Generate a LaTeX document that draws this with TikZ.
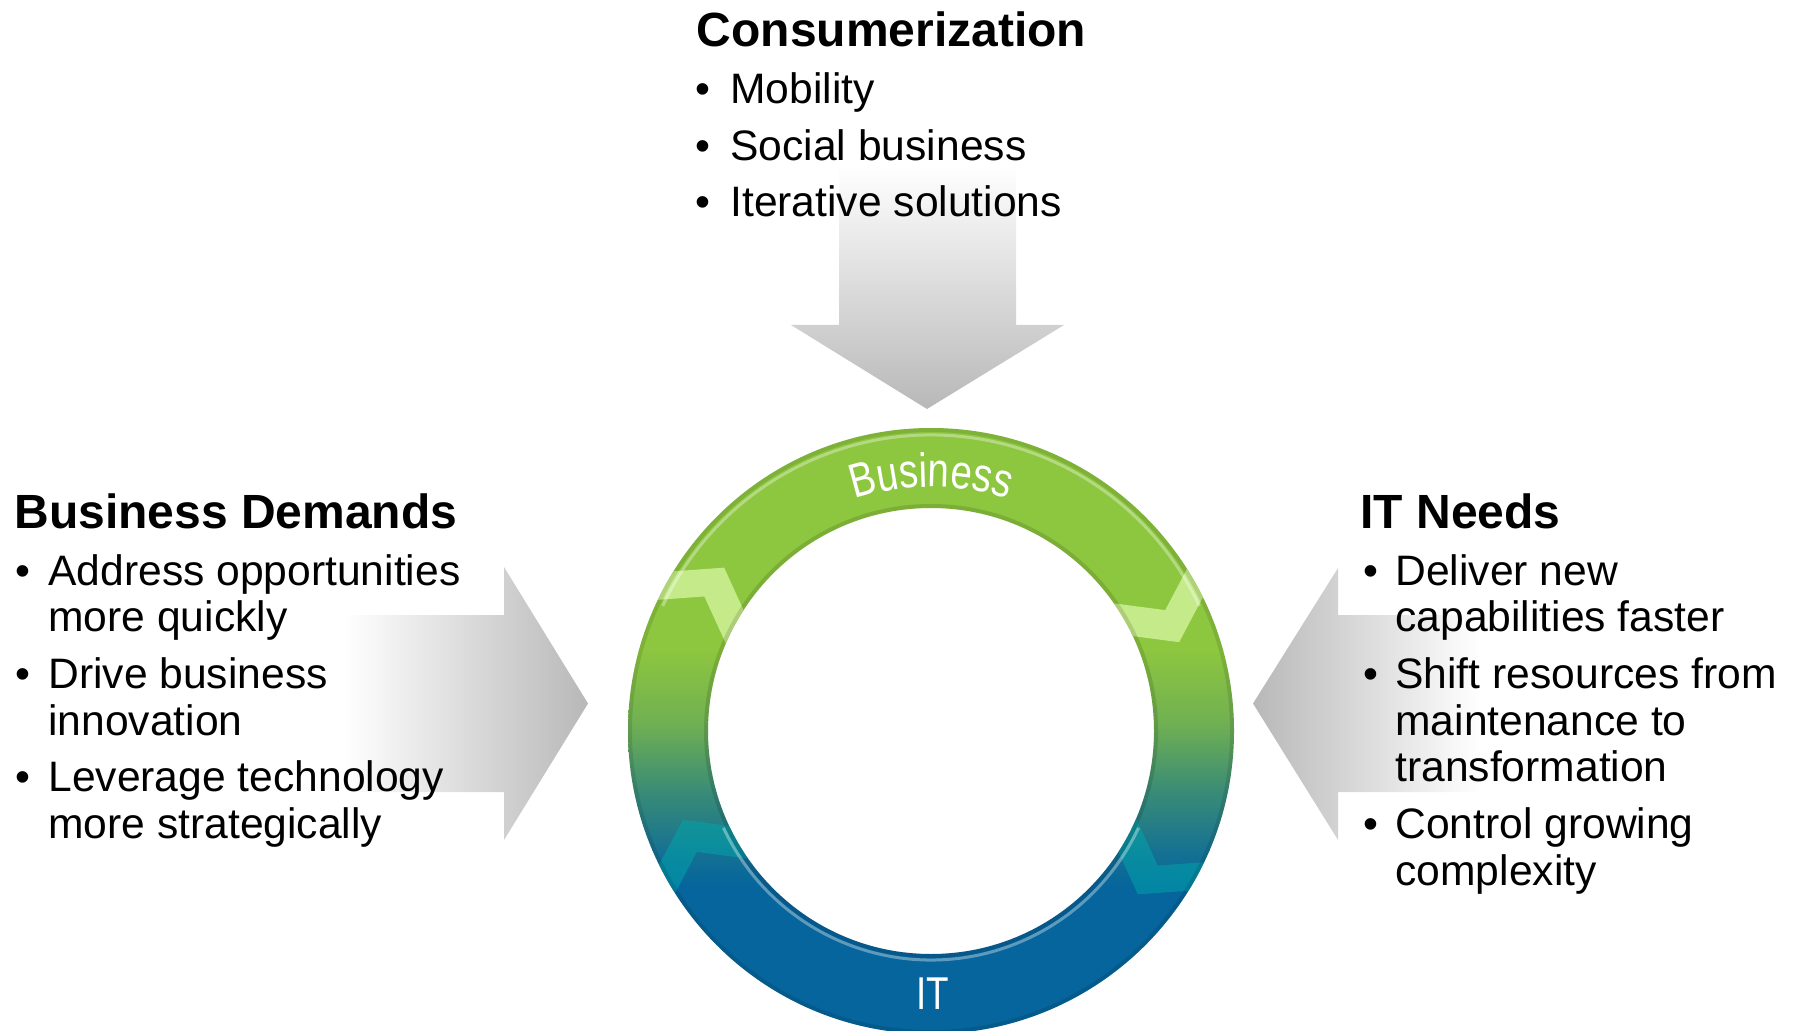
\documentclass[tikz,border=0pt]{standalone}
\usepackage{fontspec}
\setmainfont{Liberation Sans}
\newfontfamily\ringfont[FakeStretch=0.8]{Liberation Sans}
\usetikzlibrary{decorations.text}

\definecolor{ringgreen}{RGB}{141,198,63}
\definecolor{ringmid}{RGB}{112,176,82}
\definecolor{ringsea}{RGB}{58,140,118}
\definecolor{ringteal}{RGB}{22,114,146}
\definecolor{ringblue}{RGB}{6,101,156}
\definecolor{chevlight}{RGB}{197,234,138}
\definecolor{chevteal}{RGB}{0,168,172}
\definecolor{arrowgray}{RGB}{184,184,184}

\tikzset{
  heading/.style={anchor=base west, inner sep=0pt,
    font=\fontsize{24pt}{28pt}\selectfont\bfseries},
  itemtext/.style={anchor=base west, inner sep=0pt,
    font=\fontsize{21.3pt}{25pt}\selectfont},
  bulletmark/.style={itemtext},
  ringlabel/.style={inner sep=0pt, text=white,
    font=\ringfont\fontsize{23pt}{23pt}\selectfont},
  % chevron band crossing the ring, pointing clockwise (local frame: ring at angle 0)
  chevron/.pic={
    \path[pic actions] (318,26.5) -- (263,-17.5) -- (208,15.5)
      -- (208,50.5) -- (263,17.5) -- (318,61.5) -- cycle;
  },
}

\begin{document}
\begin{tikzpicture}[x=0.5pt,y=0.5pt]
\useasboundingbox (0,0) rectangle (1797,-1031);

\coordinate (ringc) at (931,-731);

% ---- grey block arrows pointing at the ring ----
\shade[top color=white, bottom color=arrowgray]
  (839,-165) -- (1016,-165) -- (1016,-325) -- (1064,-325) -- (927,-409)
  -- (791,-325) -- (839,-325) -- cycle;
\shade[left color=white, right color=arrowgray]
  (344,-615) -- (504,-615) -- (504,-567) -- (588,-703.5) -- (504,-840)
  -- (504,-792) -- (344,-792) -- cycle;
\shade[left color=arrowgray, right color=white]
  (1480,-615) -- (1338,-615) -- (1338,-568) -- (1253,-703.5) -- (1338,-840)
  -- (1338,-792) -- (1480,-792) -- cycle;

% ---- ring: green at the top fading to blue at the bottom ----
\begin{scope}[even odd rule]
  \clip (ringc) circle[radius=303] (ringc) circle[radius=223];
  \fill[ringgreen] (620,-420) rectangle (1240,-650.5);
  \shade[top color=ringgreen, bottom color=ringmid] (620,-650) rectangle (1240,-723.5);
  \shade[top color=ringmid, bottom color=ringsea] (620,-723) rectangle (1240,-790.5);
  \shade[top color=ringsea, bottom color=ringteal] (620,-790) rectangle (1240,-850.5);
  \shade[top color=ringteal, bottom color=ringblue] (620,-850) rectangle (1240,-885.5);
  \fill[ringblue] (620,-885) rectangle (1240,-1040);
  % chevrons
  \pic[fill=chevlight, rotate=145.5] at (ringc) {chevron};
  \pic[fill=chevlight, rotate=23.5] at (ringc) {chevron};
  \pic[fill=chevteal, fill opacity=0.5, rotate=203.5] at (ringc) {chevron};
  \pic[fill=chevteal, fill opacity=0.5, rotate=325.5] at (ringc) {chevron};
  % soft edges and highlights
  \draw[black, opacity=0.12, line width=3] (ringc) circle[radius=224];
  \draw[black, opacity=0.10, line width=3] (ringc) circle[radius=302];
  \draw[white, opacity=0.35, line width=1.5]
    ([shift={(25:296)}]ringc) arc[start angle=25, end angle=155, radius=296];
  \draw[white, opacity=0.35, line width=1.5]
    ([shift={(205:229)}]ringc) arc[start angle=205, end angle=335, radius=229];
\end{scope}

% ring labels
\path[decorate, decoration={text along path, text align=center,
    text={|\ringfont\fontsize{24pt}{24pt}\selectfont\color{white}|Business}}]
  ([shift={(160:244)}]ringc) arc[start angle=160, end angle=20, radius=244];
\node[ringlabel] (itlabel) at (933,-994) {IT};

% ---- Consumerization ----
\node[heading] (cons) at (696.5,-46.7) {Consumerization};
\node[bulletmark] (cons1m) at (695,-103.5) {•};
\node[itemtext] (cons1) at (730,-103.5) {Mobility};
\node[bulletmark] (cons2m) at (695,-160.3) {•};
\node[itemtext] (cons2) at (730,-160.3) {Social business};
\node[bulletmark] (cons3m) at (695,-217) {•};
\node[itemtext] (cons3) at (730,-217) {Iterative solutions};

% ---- Business Demands ----
\node[heading] (bd) at (14,-528.3) {Business Demands};
\node[bulletmark] (bd1m) at (15,-585) {•};
\node[itemtext] (bd1a) at (48,-585) {Address opportunities};
\node[itemtext] (bd1b) at (48,-631.7) {more quickly};
\node[bulletmark] (bd2m) at (15,-688.3) {•};
\node[itemtext] (bd2a) at (48,-688.3) {Drive business};
\node[itemtext] (bd2b) at (48,-735) {innovation};
\node[bulletmark] (bd3m) at (15,-791.7) {•};
\node[itemtext] (bd3a) at (48,-791.7) {Leverage technology};
\node[itemtext] (bd3b) at (48,-838.3) {more strategically};

% ---- IT Needs ----
\node[heading] (itn) at (1360,-528.3) {IT Needs};
\node[bulletmark] (itn1m) at (1363,-585) {•};
\node[itemtext] (itn1a) at (1395,-585) {Deliver new};
\node[itemtext] (itn1b) at (1395,-631.7) {capabilities faster};
\node[bulletmark] (itn2m) at (1363,-688.3) {•};
\node[itemtext] (itn2a) at (1395,-688.3) {Shift resources from};
\node[itemtext] (itn2b) at (1395,-735) {maintenance to};
\node[itemtext] (itn2c) at (1395,-781.7) {transformation};
\node[bulletmark] (itn3m) at (1363,-838.3) {•};
\node[itemtext] (itn3a) at (1395,-838.3) {Control growing};
\node[itemtext] (itn3b) at (1395,-885) {complexity};
\end{tikzpicture}
\end{document}
